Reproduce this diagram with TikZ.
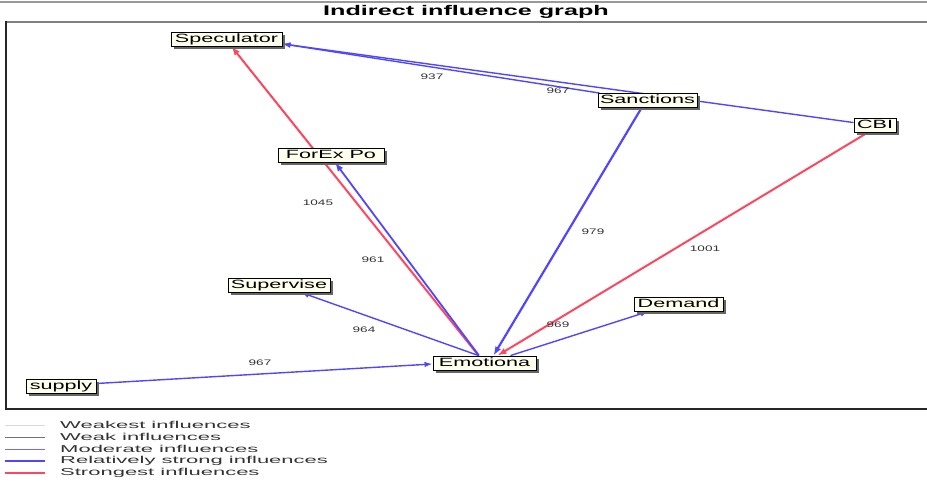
\documentclass[tikz,border=0pt]{standalone}
\usepackage{fontspec}
\setmainfont{Liberation Sans}
\newfontfamily\nodefont[FakeStretch=1.8]{Liberation Sans}
\newfontfamily\legfont[FakeStretch=2.2]{Liberation Sans}
\newfontfamily\labfont[FakeStretch=1.7]{Liberation Sans}
\newfontfamily\titfont[FakeStretch=1.8]{Liberation Sans Bold}
\usetikzlibrary{arrows.meta,shadows,backgrounds}
\definecolor{edgeblue}{RGB}{80,70,255}
\definecolor{edgered}{RGB}{255,70,95}
\definecolor{boxfill}{RGB}{255,255,238}
\tikzset{
  nd/.style={draw=black, line width=0.9pt, fill=boxfill, inner xsep=2pt, inner ysep=1pt,
    text height=9pt, text depth=2.5pt, minimum height=14pt,
    font=\nodefont\fontsize{12}{14}\selectfont,
    drop shadow={shadow xshift=2.5pt, shadow yshift=-2.5pt, fill=black!60, opacity=1}},
  lab/.style={font=\labfont\fontsize{8}{9}\selectfont, text=black!80, inner sep=0pt},
  bl/.style={draw=edgeblue, line width=1.8pt, -{Latex[length=9pt,width=6.5pt]}},
  blthin/.style={draw=edgeblue, line width=1.4pt, -{Latex[length=8pt,width=5.5pt]}},
  rd/.style={draw=edgered, line width=2pt, -{Latex[length=9pt,width=6.5pt]}},
  legtxt/.style={font=\legfont\fontsize{10}{11}\selectfont, text=black!80, anchor=west, inner sep=0pt},
}
\begin{document}
\begin{tikzpicture}[x=1pt,y=-1pt]
\useasboundingbox (0,0) rectangle (927,482);
% frame
\draw[gray!80, line width=1.5pt] (0,2) -- (927,2);
\draw[gray, line width=2pt] (6,22) -- (927,22);
\draw[black!85, line width=2pt] (6,21) -- (6,409) -- (927,409);
\node[font=\titfont\fontsize{14}{16}\selectfont, inner sep=0pt] (title) at (466,12) {Indirect influence graph};

% nodes
\node[nd, minimum width=111pt] (spec) at (226.5,39) {Speculator};
\node[nd, minimum width=99pt] (sanc) at (647.5,100.5) {Sanctions};
\node[nd, minimum width=42pt] (cbi) at (875,125.5) {CBI};
\node[nd, minimum width=106pt] (forex) at (331,155) {ForEx Po};
\node[nd, minimum width=102pt] (sup) at (279,285) {Supervise};
\node[nd, minimum width=89pt] (dem) at (678.5,304) {Demand};
\node[nd, minimum width=103pt] (emo) at (484.5,363) {Emotiona};
\node[nd, minimum width=70pt] (supply) at (61,386.5) {supply};

% edges
\begin{scope}[on background layer]
\draw[blthin] (sanc) -- (spec.-5);
\draw[blthin] (cbi) -- (spec.-5);
\draw[rd] (emo) -- ([xshift=5pt]spec.south);
\draw[bl] (emo) -- ([xshift=4pt]forex.south);
\draw[bl, line width=2.2pt] ([xshift=-6pt]sanc.south) -- ([xshift=9pt]emo.north);
\draw[rd] ([xshift=-8pt]cbi.south) -- ([xshift=13pt]emo.north);
\draw[blthin] ([xshift=-6pt]emo.north) -- ([xshift=22pt]sup.south);
\draw[blthin] ([xshift=26pt]emo.north) -- ([xshift=-30pt]dem.south);
\draw[blthin] ([yshift=3pt]supply.east) -- ([yshift=-1pt]emo.west);
\end{scope}

% edge labels
\node[lab] (l937) at (432,77) {937};
\node[lab] (l967a) at (558,91) {967};
\node[lab] (l1045) at (318,203) {1045};
\node[lab] (l961) at (373,260) {961};
\node[lab] (l979) at (593,232) {979};
\node[lab] (l1001) at (705,249) {1001};
\node[lab] (l964) at (364,330) {964};
\node[lab] (l969) at (558,325) {969};
\node[lab] (l967b) at (260,363) {967};

% legend
\coordinate (a1) at (5,425); \coordinate (b1) at (45,425);
\coordinate (a2) at (5,437); \coordinate (b2) at (45,437);
\coordinate (a3) at (5,449); \coordinate (b3) at (45,449);
\coordinate (a4) at (5,461); \coordinate (b4) at (45,461);
\coordinate (a5) at (5,473); \coordinate (b5) at (45,473);
\draw[black!15, line width=0.8pt] (a1) -- (b1);
\draw[black!55, line width=0.8pt] (a2) -- (b2);
\draw[edgeblue!80, line width=0.8pt] (a3) -- (b3);
\draw[edgeblue, line width=1.5pt] (a4) -- (b4);
\draw[edgered, line width=1.5pt] (a5) -- (b5);
\node[legtxt] (t1) at (60,425) {Weakest influences};
\node[legtxt] (t2) at (60,437) {Weak influences};
\node[legtxt] (t3) at (60,449) {Moderate influences};
\node[legtxt] (t4) at (60,461) {Relatively strong influences};
\node[legtxt] (t5) at (60,473) {Strongest influences};
\end{tikzpicture}
\end{document}
